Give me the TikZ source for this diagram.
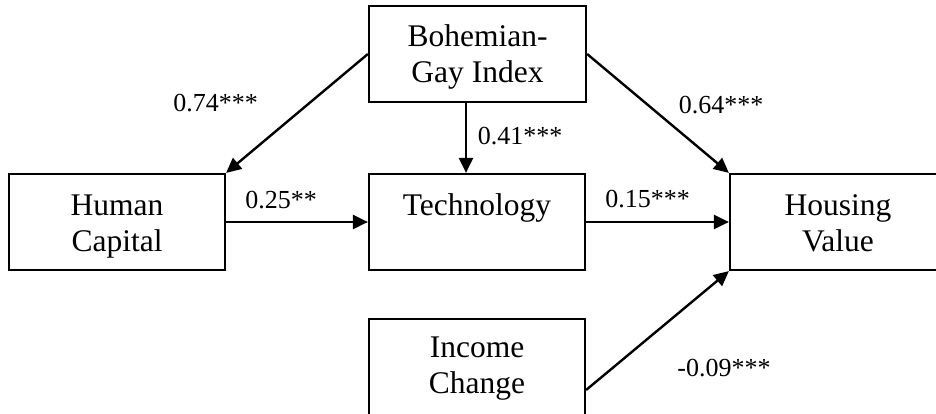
\documentclass[tikz,border=0pt]{standalone}
\usepackage{fontspec}
\setmainfont{Liberation Serif}
\usetikzlibrary{arrows.meta}
\tikzset{
  box/.style={draw, line width=2.2pt, rectangle, minimum width=216pt, inner xsep=0pt, inner ysep=0pt,
    text height=41pt, text depth=55pt, font=\fontsize{31.5}{36}\selectfont},
  arr/.style={line width=2.4pt, -{Triangle[length=15pt,width=14pt]}},
  coef/.style={font=\fontsize{26}{30}\selectfont, inner sep=0pt}
}
\newcommand{\twol}[1]{\begin{tabular}[t]{@{}c@{}}#1\end{tabular}}
\begin{document}
\begin{tikzpicture}[x=1pt,y=-1pt]
\useasboundingbox (0,0) rectangle (936,414);
\node[box, minimum width=217pt] (bgi) at (477.5,54) {\twol{Bohemian-\\Gay Index}};
\node[box] (hc) at (117,222) {\twol{Human\\Capital}};
\node[box] (tech) at (477,222) {\twol{Technology}};
\node[box] (hv) at (838,222) {\twol{Housing\\Value}};
\node[box, text height=38pt, text depth=58pt] (ic) at (477,367) {\twol{Income\\Change}};
\draw[arr] (bgi.west) -- (hc.north east);
\draw[arr] (bgi.east) -- (hv.north west);
\draw[arr] ([xshift=-11.5pt]bgi.south) -- ([xshift=-11pt]tech.north);
\draw[arr] (hc.east) -- (tech.west);
\draw[arr] (tech.east) -- (hv.west);
\draw[arr] ([yshift=-23pt]ic.east) -- (hv.south west);
\node[coef] (l1) at (215.5,103) {0.74***};
\node[coef] (l2) at (721,105) {0.64***};
\node[coef] (l3) at (520,136) {0.41***};
\node[coef] (l4) at (281,200) {0.25**};
\node[coef] (l5) at (647.5,199) {0.15***};
\node[coef] (l6) at (724,368) {-0.09***};
\end{tikzpicture}
\end{document}
